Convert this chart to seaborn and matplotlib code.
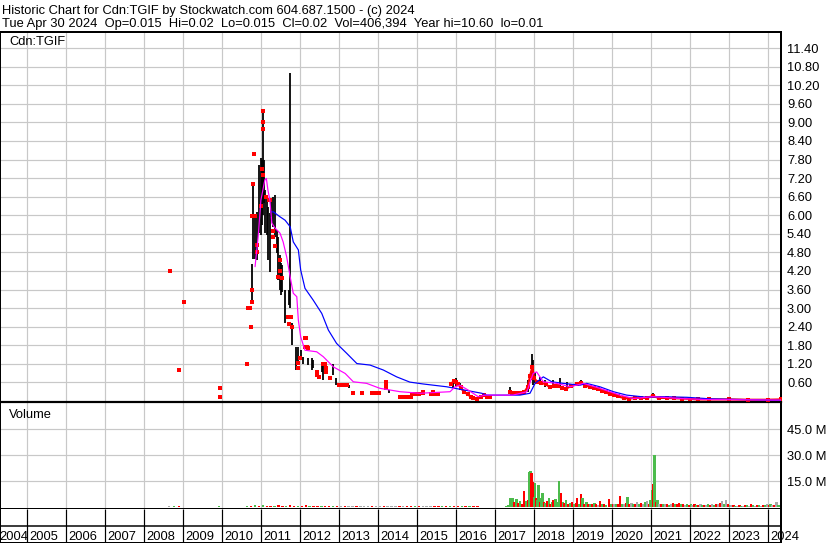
import numpy as np
import pandas as pd
import matplotlib
matplotlib.use("Agg")
import matplotlib.pyplot as plt
import seaborn as sns

# ---- data (decimal years, C$ / millions of shares) ----
bar_year = [2010.78, 2010.80, 2010.86, 2010.91, 2010.96, 2010.99, 2011.02, 2011.05, 2011.08, 2011.10,
            2011.15, 2011.19, 2011.23, 2011.26, 2011.32, 2011.36, 2011.40, 2011.45, 2011.49, 2011.51,
            2011.54, 2011.62, 2011.72, 2011.75, 2011.81, 2011.91, 2011.94, 2012.04, 2012.07, 2012.22,
            2012.30, 2012.33, 2012.57, 2012.60, 2012.70, 2012.84, 2012.93, 2013.27, 2014.28, 2015.93,
            2016.00, 2016.10, 2017.39, 2017.86, 2017.94, 2017.98, 2018.03, 2018.16, 2018.28, 2018.49,
            2018.67, 2018.85, 2019.21, 2021.05, 2021.82]
bar_high = [4.42, 7.01, 5.95, 6.11, 7.62, 7.85, 7.78, 9.38, 7.78, 6.81,
            6.60, 6.27, 6.06, 6.49, 6.60, 6.65, 5.52, 5.31, 4.71, 4.45,
            4.39, 3.58, 3.58, 10.60, 2.51, 1.75, 1.75, 1.64, 1.42, 1.38,
            1.39, 1.32, 1.21, 1.22, 1.10, 1.21, 0.73, 0.51, 0.35, 0.68,
            0.74, 0.57, 0.44, 0.68, 1.52, 1.32, 0.89, 0.78, 0.68, 0.68,
            0.74, 0.61, 0.68, 0.26, 0.14]
bar_low = [3.21, 4.58, 4.58, 4.55, 5.42, 5.36, 5.68, 6.01, 6.39, 5.42,
           5.36, 4.55, 4.17, 5.95, 5.63, 5.30, 4.78, 3.91, 3.58, 3.42,
           3.52, 2.51, 3.10, 2.99, 1.81, 1.00, 1.21, 1.32, 1.21, 1.16,
           1.00, 1.05, 0.94, 0.68, 0.90, 0.84, 0.51, 0.42, 0.26, 0.41,
           0.48, 0.35, 0.25, 0.30, 0.68, 0.51, 0.57, 0.51, 0.46, 0.45,
           0.48, 0.42, 0.51, 0.14, 0.05]

close_year = [2008.67, 2008.90, 2009.02, 2009.95, 2009.95, 2010.64, 2010.68, 2010.72, 2010.75, 2010.77,
              2010.78, 2010.78, 2010.80, 2010.81, 2010.82, 2010.84, 2010.91, 2010.91, 2011.00, 2011.04,
              2011.05, 2011.05, 2011.05, 2011.06, 2011.12, 2011.22, 2011.24, 2011.30, 2011.32, 2011.36,
              2011.45, 2011.49, 2011.49, 2011.53, 2011.70, 2011.72, 2011.78, 2011.80, 2011.94, 2011.95,
              2012.00, 2012.13, 2012.13, 2012.15, 2012.18, 2012.20, 2012.43, 2012.44, 2012.50, 2012.58,
              2012.64, 2012.68, 2012.68, 2012.77, 2012.99, 2013.07, 2013.12, 2013.15, 2013.20, 2013.37,
              2013.58, 2013.84, 2013.90, 2013.96, 2014.03, 2014.20, 2014.20, 2014.20, 2014.57, 2014.62,
              2014.70, 2014.78, 2014.84, 2014.88, 2014.95, 2015.05, 2015.16, 2015.16, 2015.35, 2015.40,
              2015.45, 2015.55]
close_price = [4.21, 1.01, 3.21, 0.43, 0.14, 1.19, 3.01, 3.01, 2.40, 3.58,
               3.21, 5.98, 7.01, 5.98, 7.98, 5.98, 5.04, 4.82, 6.30, 7.50,
               9.38, 9.00, 8.78, 7.30, 6.60, 6.50, 6.49, 5.50, 5.30, 5.00,
               4.01, 4.55, 4.20, 3.96, 2.72, 2.50, 2.72, 2.40, 1.22, 1.06,
               1.40, 2.02, 1.75, 2.02, 1.75, 1.70, 0.94, 0.84, 0.78, 1.21,
               1.21, 1.05, 0.94, 0.73, 0.51, 0.51, 0.51, 0.51, 0.51, 0.25,
               0.25, 0.25, 0.25, 0.25, 0.25, 0.62, 0.50, 0.41, 0.14, 0.14,
               0.14, 0.14, 0.14, 0.22, 0.22, 0.22, 0.30, 0.25, 0.22, 0.30,
               0.22, 0.22]

# dense trading periods, drawn as a joined close line
close16_year = [2015.88, 2015.95, 2016.00, 2016.05, 2016.12, 2016.20, 2016.30, 2016.38, 2016.45,
                2016.55, 2016.65, 2016.72, 2016.80, 2016.88]
close16_price = [0.55, 0.66, 0.62, 0.55, 0.45, 0.30, 0.22, 0.14, 0.10,
                 0.08, 0.12, 0.20, 0.14, 0.12]
close18_year = [2017.39, 2017.45, 2017.55, 2017.65, 2017.75, 2017.84, 2017.90, 2017.96, 2018.00, 2018.08,
                2018.18, 2018.30, 2018.40, 2018.52, 2018.62, 2018.72, 2018.82, 2018.95, 2019.10, 2019.22,
                2019.32, 2019.45, 2019.55, 2019.65, 2019.75, 2019.85, 2019.95, 2020.05, 2020.15, 2020.30,
                2020.45, 2020.60, 2020.75, 2020.90, 2021.05, 2021.20, 2021.40, 2021.60, 2021.80, 2022.00,
                2022.20, 2022.50, 2023.00, 2023.50, 2024.00, 2024.33]
close18_price = [0.30, 0.25, 0.25, 0.25, 0.28, 0.45, 0.80, 1.10, 0.75, 0.62,
                 0.58, 0.55, 0.45, 0.50, 0.48, 0.42, 0.40, 0.48, 0.55, 0.58,
                 0.50, 0.45, 0.42, 0.38, 0.33, 0.28, 0.22, 0.18, 0.15, 0.10,
                 0.08, 0.10, 0.10, 0.10, 0.16, 0.10, 0.10, 0.09, 0.08, 0.07,
                 0.05, 0.05, 0.05, 0.04, 0.04, 0.05]

ma_short_year = [2010.85, 2010.93, 2011.00, 2011.10, 2011.14, 2011.18, 2011.23, 2011.28, 2011.36, 2011.49,
                 2011.57, 2011.66, 2011.75, 2011.83, 2011.92, 2011.96, 2012.02, 2012.13, 2012.43, 2012.60,
                 2012.86, 2013.16, 2013.37, 2013.71, 2014.05, 2014.57, 2015.08, 2015.85, 2015.98, 2016.10,
                 2016.32, 2016.57, 2016.75, 2017.46, 2017.82, 2017.98, 2018.07, 2018.24, 2018.58, 2018.93,
                 2019.27, 2019.69, 2020.21, 2020.55, 2021.06, 2021.75, 2022.34, 2024.33]
ma_short_price = [4.34, 5.31, 6.49, 7.14, 7.19, 6.81, 6.49, 5.75, 5.59, 5.42,
                  5.14, 4.66, 4.01, 3.48, 3.37, 2.61, 2.07, 1.64, 1.59, 1.43,
                  1.10, 0.89, 0.62, 0.57, 0.41, 0.30, 0.25, 0.30, 0.46, 0.51,
                  0.35, 0.14, 0.19, 0.19, 0.30, 0.89, 0.94, 0.62, 0.57, 0.46,
                  0.57, 0.41, 0.19, 0.08, 0.14, 0.08, 0.05, 0.03]

ma_long_year = [2011.27, 2011.32, 2011.49, 2011.62, 2011.75, 2011.83, 2011.96, 2012.02, 2012.13, 2012.34,
                2012.56, 2012.73, 2012.94, 2013.20, 2013.46, 2013.80, 2014.14, 2014.48, 2014.82, 2015.16,
                2015.76, 2016.10, 2016.28, 2016.45, 2016.66, 2016.79, 2017.64, 2017.90, 2018.03, 2018.24,
                2018.46, 2018.75, 2019.18, 2019.35, 2019.69, 2020.04, 2020.38, 2020.89, 2021.23, 2021.92,
                2022.52, 2024.33]
ma_long_price = [6.11, 6.11, 5.95, 5.84, 5.63, 5.14, 4.88, 4.23, 3.64, 3.26,
                 2.83, 2.29, 1.86, 1.54, 1.21, 1.16, 1.00, 0.78, 0.61, 0.55,
                 0.46, 0.38, 0.34, 0.30, 0.25, 0.19, 0.19, 0.25, 0.57, 0.78,
                 0.62, 0.57, 0.51, 0.57, 0.46, 0.30, 0.19, 0.12, 0.14, 0.12,
                 0.07, 0.02]

vol_year = [2008.65, 2008.78, 2008.90, 2009.92,
            2010.65, 2010.75, 2010.85, 2010.95, 2011.05, 2011.15, 2011.25, 2011.35, 2011.45, 2011.55,
            2011.65, 2011.75, 2011.85, 2011.95, 2012.05, 2012.15, 2012.25, 2012.35, 2012.45, 2012.55,
            2012.65, 2012.75, 2012.85, 2012.95, 2013.05, 2013.15, 2013.25, 2013.35, 2013.45, 2013.55,
            2013.65, 2013.75, 2013.85, 2013.95, 2014.05, 2014.15, 2014.25, 2014.35, 2014.45, 2014.55,
            2014.65, 2014.75, 2014.85, 2014.95, 2015.05, 2015.15, 2015.25, 2015.35, 2015.45, 2015.55,
            2015.65, 2015.75, 2015.85, 2015.95, 2016.05, 2016.15, 2016.25, 2016.35, 2016.45, 2016.55,
            2017.30, 2017.35, 2017.40, 2017.45, 2017.50, 2017.55, 2017.60, 2017.65, 2017.70, 2017.75,
            2017.80, 2017.85, 2017.88, 2017.91, 2017.94, 2017.97, 2018.00, 2018.03, 2018.06, 2018.09,
            2018.12, 2018.15, 2018.18, 2018.22, 2018.26, 2018.30, 2018.34, 2018.38, 2018.42, 2018.46,
            2018.50, 2018.55, 2018.60, 2018.65, 2018.70, 2018.74, 2018.78, 2018.83, 2018.88, 2018.93,
            2018.98, 2019.03, 2019.08, 2019.11, 2019.16, 2019.20, 2019.25, 2019.30, 2019.35, 2019.40,
            2019.45, 2019.50, 2019.55, 2019.60, 2019.65, 2019.70, 2019.75, 2019.80, 2019.85, 2019.92,
            2019.97, 2020.02, 2020.07, 2020.12, 2020.17, 2020.21, 2020.26, 2020.31, 2020.36, 2020.40,
            2020.45, 2020.50, 2020.55, 2020.60, 2020.65, 2020.70, 2020.75, 2020.80, 2020.85, 2020.90,
            2020.95, 2020.99, 2021.03, 2021.06, 2021.09, 2021.13, 2021.17, 2021.22, 2021.27, 2021.32,
            2021.37, 2021.42, 2021.47, 2021.52, 2021.57, 2021.62, 2021.67, 2021.72, 2021.77, 2021.82,
            2021.87, 2021.92, 2021.97, 2022.02, 2022.07, 2022.12, 2022.17, 2022.22, 2022.27, 2022.32,
            2022.37, 2022.42, 2022.47, 2022.52, 2022.57, 2022.62, 2022.67, 2022.72, 2022.77, 2022.82,
            2022.87, 2022.92, 2022.97, 2023.02, 2023.07, 2023.12, 2023.17, 2023.22, 2023.27, 2023.32,
            2023.37, 2023.42, 2023.47, 2023.52, 2023.57, 2023.62, 2023.67, 2023.72, 2023.77, 2023.82,
            2023.87, 2023.92, 2023.97, 2024.02, 2024.07, 2024.12, 2024.17, 2024.22, 2024.27]
vol_m = [0.3, 0.4, 0.4, 0.4,
         0.6, 0.8, 0.9, 0.8, 0.9, 0.8, 0.7, 0.8, 0.9, 0.7,
         0.8, 0.9, 0.8, 0.7, 0.8, 0.9, 0.7, 0.8, 0.6, 0.7,
         0.8, 0.6, 0.7, 0.6, 0.5, 0.6, 0.5, 0.4, 0.5, 0.4,
         0.5, 0.4, 0.4, 0.5, 0.4, 0.6, 0.5, 0.4, 0.3, 0.5,
         0.4, 0.3, 0.4, 0.5, 0.4, 0.3, 0.3, 0.3, 0.3, 0.3,
         0.4, 0.5, 0.6, 0.7, 0.6, 0.6, 0.5, 0.6, 0.5, 0.4,
         0.5, 1.0, 5.0, 5.4, 3.0, 4.4, 2.5, 3.5, 2.0, 9.2,
         3.5, 4.0, 20.0, 21.0, 19.5, 14.5, 6.0, 13.7, 5.0, 4.0,
         12.7, 3.0, 5.0, 8.3, 3.0, 2.5, 3.5, 5.4, 2.0, 3.0,
         4.0, 4.4, 3.0, 15.0, 8.0, 3.0, 2.5, 4.0, 2.0, 2.5,
         3.0, 1.8, 2.5, 5.4, 2.0, 7.3, 5.0, 2.0, 3.0, 1.5,
         2.0, 1.5, 2.5, 1.8, 1.2, 3.5, 1.5, 1.8, 1.2, 4.4,
         1.5, 2.0, 1.5, 2.0, 1.5, 6.3, 2.0, 1.5, 2.5, 6.0,
         2.0, 2.5, 1.8, 2.0, 3.0, 2.0, 2.5, 2.0, 3.0, 3.5,
         2.0, 4.0, 10.0, 13.0, 30.0, 3.0, 4.0, 1.5, 2.0, 1.5,
         2.0, 1.5, 1.0, 1.5, 2.5, 1.5, 2.0, 2.5, 1.5, 1.8,
         1.2, 1.5, 1.0, 1.5, 1.0, 1.5, 1.2, 1.0, 1.5, 1.0,
         1.2, 1.0, 1.5, 1.0, 1.5, 1.0, 1.5, 2.0, 2.5, 3.5,
         2.0, 4.0, 1.5, 1.0, 1.0, 1.0, 0.8, 0.8, 1.0, 0.8,
         0.8, 1.2, 1.0, 0.8, 1.5, 1.0, 0.8, 1.0, 1.2, 0.8,
         1.0, 1.0, 1.5, 1.0, 1.5, 1.0, 1.2, 3.0, 1.0]
vol_dir = ["k", "g", "r", "g",
           "g", "r", "g", "r", "g", "r", "r", "g", "r", "r",
           "g", "r", "r", "g", "r", "r", "g", "r", "r", "g",
           "r", "r", "g", "r", "k", "r", "k", "k", "r", "k",
           "k", "k", "r", "k", "k", "r", "k", "k", "k", "r",
           "k", "r", "r", "g", "r", "k", "k", "k", "r", "r",
           "g", "r", "g", "r", "r", "g", "r", "g", "r", "r",
           "g", "g", "g", "g", "r", "g", "r", "g", "r", "r",
           "g", "r", "g", "g", "r", "r", "g", "g", "r", "g",
           "g", "r", "g", "g", "r", "g", "r", "g", "r", "g",
           "r", "g", "g", "g", "r", "g", "r", "g", "r", "g",
           "r", "g", "r", "r", "g", "r", "g", "r", "g", "r",
           "g", "r", "g", "r", "k", "r", "g", "r", "g", "r",
           "g", "r", "k", "g", "r", "r", "g", "k", "r", "g",
           "r", "k", "g", "r", "k", "g", "r", "k", "g", "k",
           "r", "g", "g", "r", "g", "r", "g", "k", "r", "g",
           "k", "r", "g", "k", "r", "g", "r", "r", "g", "r",
           "k", "g", "r", "g", "k", "r", "g", "r", "k", "g",
           "r", "k", "g", "r", "k", "g", "r", "k", "r", "k",
           "g", "k", "r", "g", "k", "r", "g", "k", "r", "g",
           "k", "r", "g", "k", "r", "g", "k", "r", "g", "k",
           "r", "g", "k", "r", "g", "k", "r", "k", "g"]

price_ticks = [0.6, 1.2, 1.8, 2.4, 3.0, 3.6, 4.2, 4.8, 5.4, 6.0, 6.6, 7.2, 7.8,
               8.4, 9.0, 9.6, 10.2, 10.8, 11.4]
vol_ticks = [15, 30, 45]
years = list(range(2004, 2025))

title1 = "Historic Chart for Cdn:TGIF by Stockwatch.com 604.687.1500 - (c) 2024"
title2 = "Tue Apr 30 2024  Op=0.015  Hi=0.02  Lo=0.015  Cl=0.02  Vol=406,394  Year hi=10.60  lo=0.01"

# ---- styling ----
sns.set_style("white")
plt.rcParams["font.family"] = ["Liberation Sans", "DejaVu Sans"]
FS = 9.3           # about 13 px text
PT = 0.72          # one pixel in points at 100 dpi
W, H = 830, 543
X0, X1 = 2004.31, 2004.31 + 781 / 39.0
GRID = "#c8c8c8"
vol_colors = {"g": "#4cbb4c", "r": "#ff0000", "k": "#a8a8a8"}

fig = plt.figure(figsize=(8.3, 5.43), dpi=100)


def box(l, t, r, b):
    return [l / W, 1 - b / H, (r - l) / W, (b - t) / H]


ax_p = fig.add_axes(box(0, 32, 781, 401))
ax_v = fig.add_axes(box(0, 402, 781, 509))
ax_d = fig.add_axes(box(0, 509, 781, 543))

for ax in (ax_p, ax_v, ax_d):
    ax.set_xlim(X0, X1)
    ax.set_facecolor("white")
    for s in ax.spines.values():
        s.set_color("black")
        s.set_visible(True)

# ---- price panel ----
ax_p.set_ylim(0, 11.92)
ax_p.set_xticks(years[1:])
ax_p.set_yticks(price_ticks)
ax_p.set_yticklabels(["%.2f" % t for t in price_ticks])
ax_p.yaxis.tick_right()
ax_p.tick_params(axis="y", length=0, pad=6 * PT, labelsize=FS, colors="black")
ax_p.tick_params(axis="x", length=0, labelbottom=False)
ax_p.grid(True, color=GRID, lw=1.2 * PT)
ax_p.set_axisbelow(True)
ax_p.spines["top"].set_linewidth(2 * PT)
ax_p.spines["left"].set_linewidth(2 * PT)
ax_p.spines["right"].set_linewidth(2 * PT)
ax_p.spines["bottom"].set_linewidth(1.2 * PT)

ax_p.vlines(bar_year, bar_low, bar_high, color="black", lw=1.8 * PT, zorder=2)
sns.scatterplot(x=close_year, y=close_price, ax=ax_p, color="#ff0000", marker="s",
                s=5, linewidth=0, zorder=3)
sns.lineplot(x=close16_year, y=close16_price, ax=ax_p, color="#ff0000", lw=2.2 * PT,
             marker="s", markersize=2.2, markeredgewidth=0, estimator=None, sort=False, zorder=3)
sns.lineplot(x=close18_year, y=close18_price, ax=ax_p, color="#ff0000", lw=2.2 * PT,
             marker="s", markersize=2.2, markeredgewidth=0, estimator=None, sort=False, zorder=3)
sns.lineplot(x=ma_long_year, y=ma_long_price, ax=ax_p, color="#0000ff", lw=1.2 * PT,
             estimator=None, sort=False, zorder=4)
sns.lineplot(x=ma_short_year, y=ma_short_price, ax=ax_p, color="#ff00ff", lw=1.2 * PT,
             estimator=None, sort=False, zorder=4)
ax_p.set_xlabel("")
ax_p.set_ylabel("")
ax_p.text(9 / 781, 1 - 13 / 369, "Cdn:TGIF", transform=ax_p.transAxes, fontsize=FS,
          ha="left", va="baseline", color="black")

# ---- volume panel ----
ax_v.set_ylim(-1.15, 60.6)
ax_v.set_xticks(years[1:])
ax_v.set_yticks(vol_ticks)
ax_v.set_yticklabels(["%.1f M" % t for t in vol_ticks])
ax_v.yaxis.tick_right()
ax_v.tick_params(axis="y", length=0, pad=6 * PT, labelsize=FS, colors="black")
ax_v.tick_params(axis="x", length=0, labelbottom=False)
ax_v.grid(True, color=GRID, lw=1.2 * PT)
ax_v.set_axisbelow(True)
ax_v.spines["top"].set_linewidth(1.2 * PT)
ax_v.spines["left"].set_linewidth(2 * PT)
ax_v.spines["right"].set_linewidth(2 * PT)
ax_v.spines["bottom"].set_linewidth(2 * PT)
ax_v.bar(vol_year, vol_m, width=0.06, color=[vol_colors[c] for c in vol_dir],
         linewidth=0, zorder=2)
ax_v.text(9 / 781, 1 - 16 / 107, "Volume", transform=ax_v.transAxes, fontsize=FS,
          ha="left", va="baseline", color="black")

# ---- date band ----
ax_d.set_ylim(0, 34)
ax_d.set_xticks([])
ax_d.set_yticks([])
ax_d.spines["top"].set_visible(False)
ax_d.spines["left"].set_linewidth(2 * PT)
ax_d.spines["right"].set_linewidth(2 * PT)
ax_d.spines["bottom"].set_linewidth(2 * PT)
ax_d.axhline(17, color="black", lw=1.5 * PT)
ax_d.vlines(years[1:], 0, 34, color="black", lw=1.2 * PT)
for yr in years:
    xpos = yr + 2 / 39.0 if yr > 2004 else X0 - 1 / 39.0
    ax_d.text(xpos, 3.5, str(yr), fontsize=FS, ha="left", va="baseline",
              color="black", clip_on=False)

# ---- header ----
fig.text(2 / W, 1 - 14 / H, title1, fontsize=FS, ha="left", va="baseline", color="black")
fig.text(2 / W, 1 - 27 / H, title2, fontsize=FS, ha="left", va="baseline", color="black")

fig.savefig("out.png", dpi=100, facecolor="white")
